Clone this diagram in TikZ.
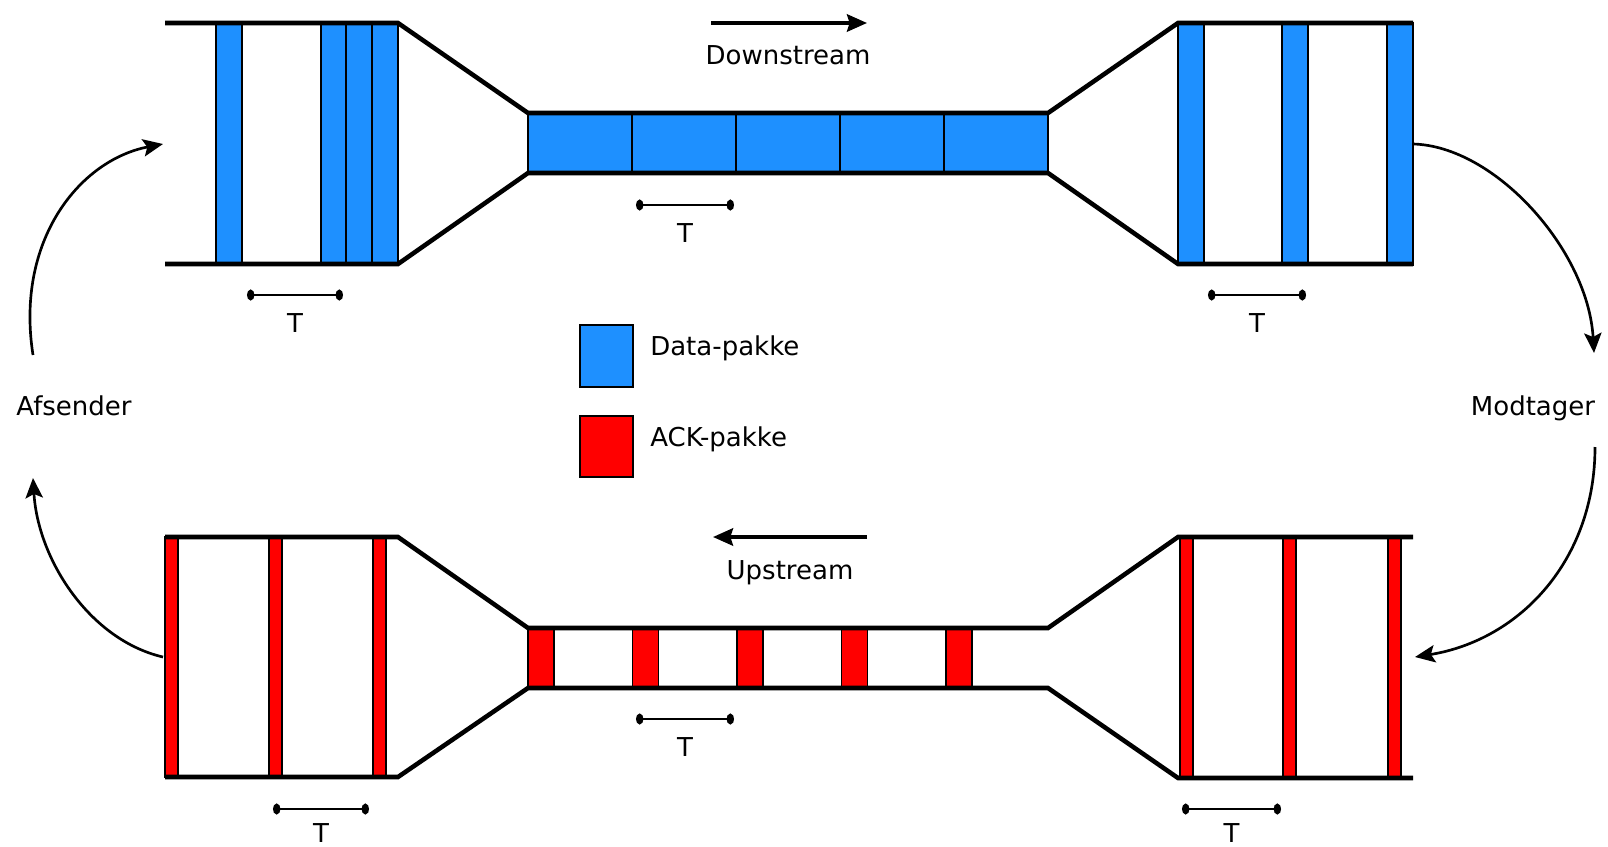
\documentclass[tikz,border=0pt]{standalone}
\usepackage{fontspec}
\setmainfont{DejaVu Sans}
\usetikzlibrary{arrows.meta}
\definecolor{datablue}{RGB}{30,144,255}
\definecolor{ackred}{RGB}{255,0,0}

\begin{document}
\begin{tikzpicture}[x=0.75pt,y=0.75pt,yscale=-1,xscale=1,
  wall/.style={line width=3.4pt,line join=miter},
  datapkt/.style={fill=datablue,draw=black,line width=1pt},
  ackpkt/.style={fill=ackred,draw=black,line width=1pt},
  period/.style={line width=2pt,{Circle[length=5.5pt,width=8pt]}-{Circle[length=5.5pt,width=8pt]}},
  flow/.style={line width=2pt,-{Stealth[length=15pt,width=13pt,inset=3pt]}},
  dirarrow/.style={line width=2.8pt,-{Stealth[length=15pt,width=13pt,inset=2pt]}},
  lbl/.style={inner sep=0pt,anchor=base,font=\fontsize{19.5}{23}\selectfont}]
\useasboundingbox (0,0) rectangle (1608,846);

%Shape: Data packets (downstream)
\foreach \x in {216,321,346,372} \draw[datapkt] (\x,23) rectangle ++(26,241);
\foreach \x in {528,632,736,840,944} \draw[datapkt] (\x,113) rectangle ++(104,60);
\foreach \x in {1178,1282,1387} \draw[datapkt] (\x,23) rectangle ++(26,242);

%Shape: ACK packets (upstream)
\foreach \x in {165,269,373} \draw[ackpkt] (\x,537) rectangle ++(13,240);
\foreach \i in {0,...,4} \draw[ackpkt] ({528+104.5*\i},628) rectangle ++(26,60);
\foreach \x in {1180,1283,1388} \draw[ackpkt] (\x,537) rectangle ++(13,241);

%Shape: Channel walls
\draw[wall] (165,23) -- (398,23) -- (528,113) -- (1048,113) -- (1178,23) -- (1413,23);
\draw[wall] (165,264) -- (398,264) -- (528,173) -- (1048,173) -- (1178,264) -- (1413,264);
\draw[wall] (165,537) -- (398,537) -- (528,628) -- (1048,628) -- (1178,537) -- (1413,537);
\draw[wall] (165,777) -- (398,777) -- (528,688) -- (1048,688) -- (1178,778) -- (1413,778);

%Shape: Period markers
\foreach \a/\b/\y/\n/\d in {247/343/295/1/37,636/734/205/2/37,1208/1306/295/3/37,636/734/719/4/37,273/369/809/5/33,1182/1281/809/6/33}{
  \coordinate (pa\n) at (\a,\y);
  \coordinate (pb\n) at (\b,\y);
  \draw[period] (pa\n) -- (pb\n);
  \node[lbl] (t\n) at ({(\a+\b)/2},{\y+\d}) {T};
}

% Text Node
\node[lbl] (down) at (788,64) {Downstream};
\node[lbl] (up) at (790,579) {Upstream};
\node[lbl] (sender) at (74,415) {Afsender};
\node[lbl] (receiver) at (1533,415) {Modtager};

%Shape: Direction arrows
\coordinate (downA) at (711,23);
\coordinate (downB) at (867,23);
\coordinate (upA) at (867,537);
\coordinate (upB) at (713,537);
\draw[dirarrow] (downA) -- (downB);
\draw[dirarrow] (upA) -- (upB);

%Shape: Loop arrows
\coordinate (s1) at (33,355);
\coordinate (s2) at (163,144);
\coordinate (s3) at (163,657);
\coordinate (s4) at (33,478);
\coordinate (r1) at (1413,144);
\coordinate (r2) at (1594,353);
\coordinate (r3) at (1595,447);
\coordinate (r4) at (1415,657);
\draw[flow] (s1) .. controls (15,240) and (80,160) .. (s2);
\draw[flow] (s3) .. controls (90,640) and (38,560) .. (s4);
\draw[flow] (r1) .. controls (1495,146) and (1588,250) .. (r2);
\draw[flow] (r3) .. controls (1595,560) and (1520,640) .. (r4);

%Shape: Legend
\draw[datapkt] (580,325) rectangle (633,387);
\draw[ackpkt] (580,416) rectangle (633,477);
\node[lbl,anchor=base west] (datalbl) at (650,355) {Data-pakke};
\node[lbl,anchor=base west] (acklbl) at (650,446) {ACK-pakke};
\end{tikzpicture}
\end{document}
